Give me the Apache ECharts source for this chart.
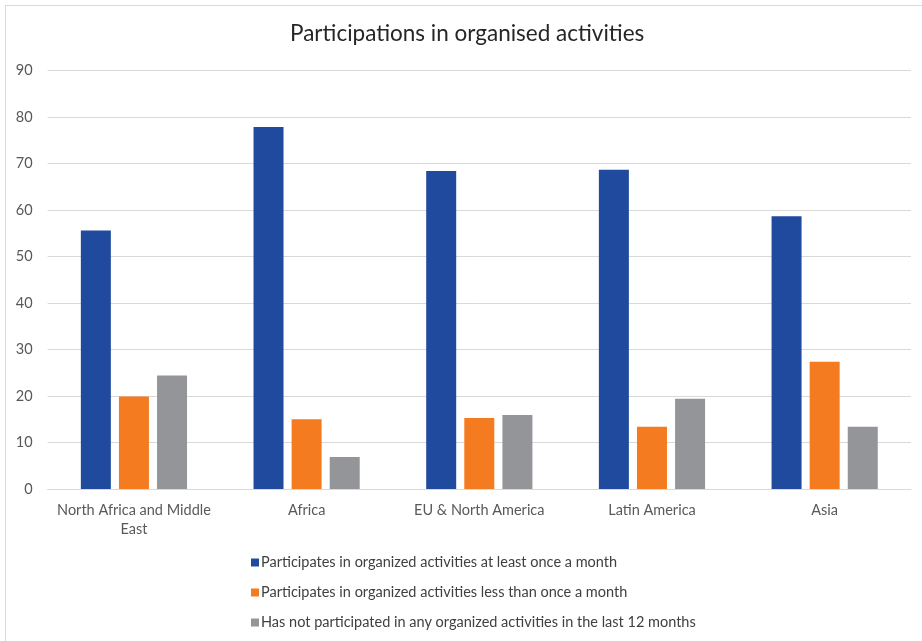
<!DOCTYPE html>
<html><head><meta charset="utf-8">
<script src="https://cdn.jsdelivr.net/npm/echarts@6/dist/echarts.min.js"></script>
<style>
html,body{margin:0;padding:0;background:#fff;}
#frame{position:absolute;left:5px;top:5px;width:930px;height:650px;border:1px solid #d9d9d9;box-sizing:border-box;}
#c{position:absolute;left:0;top:0;width:922px;height:641px;}
</style></head>
<body><div id="frame"></div><div id="c"></div>
<script>
const categories = ["North Africa and Middle\nEast", "Africa", "EU & North America", "Latin America", "Asia"];
const seriesNames = [
  "Participates in organized activities at least once a month",
  "Participates in organized activities less than once a month",
  "Has not participated in any organized activities in the last 12 months"
];
const atLeastMonthly = [55.6, 77.9, 68.4, 68.7, 58.7];
const lessThanMonthly = [19.9, 15.0, 15.3, 13.4, 27.4];
const notParticipated = [24.4, 6.9, 15.9, 19.4, 13.4];
const colors = ["#1f4a9e", "#f47b20", "#939598"];
const font = "Lato, 'Open Sans', sans-serif";

const chart = echarts.init(document.getElementById('c'), null, {renderer:'canvas'});
const data = [atLeastMonthly, lessThanMonthly, notParticipated];
chart.setOption({
  animation:false,
  textStyle:{fontFamily:font},
  title:{text:"Participations in organised activities", left:290, top:22, padding:0,
    textStyle:{fontFamily:font, fontSize:22.5, fontWeight:'normal', color:'#262626'}},
  legend:{orient:'vertical', left:246, top:550, itemWidth:8, itemHeight:8, itemGap:15,
    icon:'rect', textStyle:{fontFamily:font, fontSize:14.5, color:'#404040', padding:[0,0,0,-3]},
    data:seriesNames},
  grid:{left:47.6, right:11, top:70.7, bottom:152, containLabel:false},
  xAxis:{type:'category', data:categories,
    axisLine:{lineStyle:{color:'#d9d9d9'}}, axisTick:{show:false},
    axisLabel:{fontFamily:font, fontSize:14.5, color:'#595959', margin:12, lineHeight:19, interval:0}},
  yAxis:{type:'value', min:0, max:90, interval:10,
    axisLine:{show:false}, axisTick:{show:false},
    splitLine:{lineStyle:{color:'#d9d9d9'}},
    axisLabel:{fontFamily:font, fontSize:14.5, color:'#595959', margin:15}},
  series: seriesNames.map((n,i)=>({name:n, type:'bar', data:data[i], barWidth:30, barGap:'27%',
    itemStyle:{color:colors[i]}}))
});
</script></body></html>
